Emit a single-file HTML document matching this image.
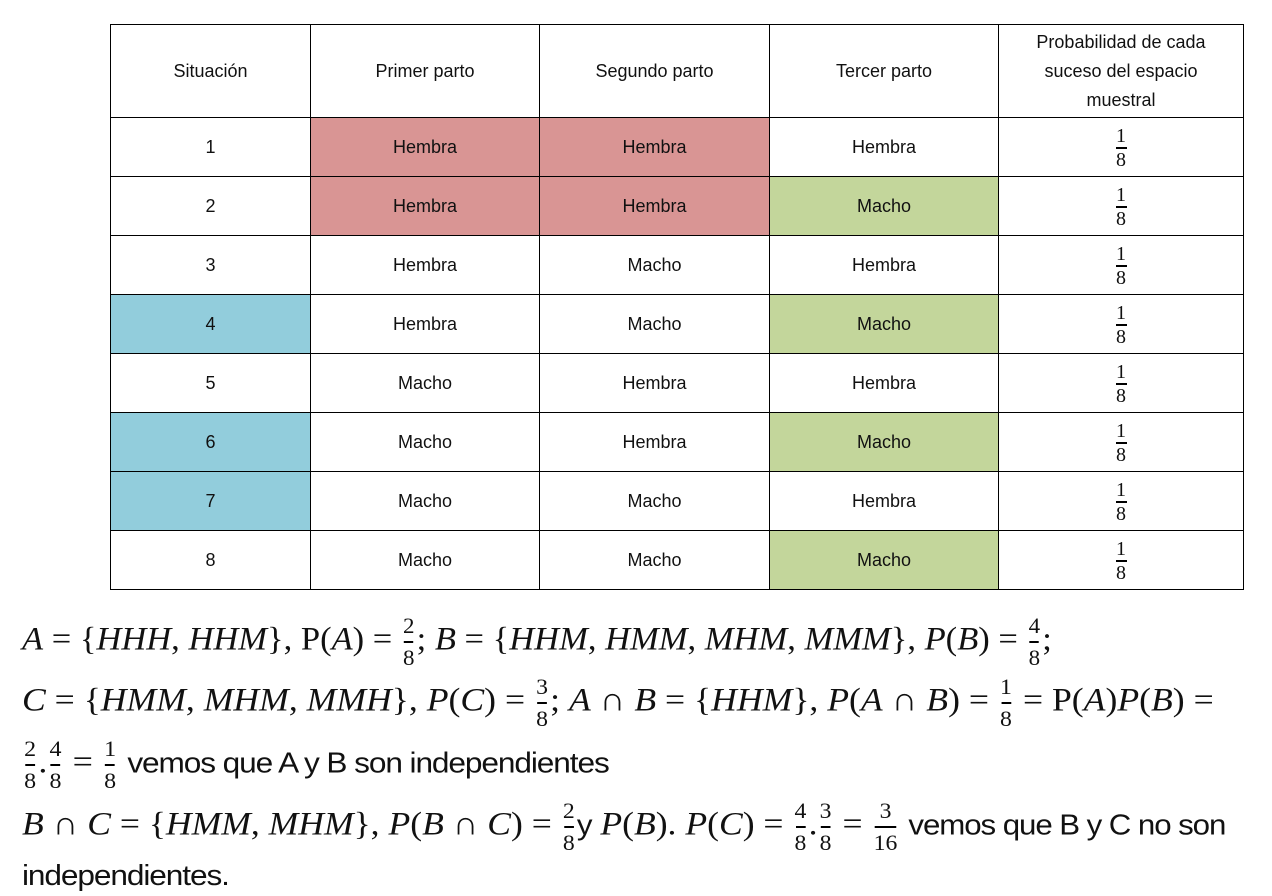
<!DOCTYPE html>
<html><head><meta charset="utf-8">
<style>
body{margin:0;width:1272px;height:896px;background:#fff;position:relative;overflow:hidden;font-family:"Liberation Sans",sans-serif}
table{position:absolute;left:110px;top:24px;border-collapse:collapse;table-layout:fixed}
td{border:1.5px solid #000;text-align:center;font-size:18px;color:#111;padding:0;overflow:hidden;position:relative}
tr.h td{height:92px;line-height:29px}
tr.r td{height:58px}
.R{background:#d99594}.G{background:#c3d69b}.B{background:#92cddc}
.pf{position:absolute;left:0;right:0;top:0;bottom:0;overflow:hidden}
.pf div{position:absolute;left:0;right:0;top:8px;font-family:"Liberation Serif",serif;font-size:20px;line-height:20px}
.pf i{display:block;width:11px;height:1.5px;background:#000;margin:1px auto 1px}
.ln{position:absolute;left:22px;white-space:nowrap;font-family:"Liberation Serif",serif;font-size:33px;color:#111;transform-origin:0 50%}
.m{font-style:italic}
.f{display:inline-block;vertical-align:middle;text-align:center;font-style:normal;font-size:22px;line-height:24px;margin:0 2px}
.f b{display:block;font-weight:normal}
.f i{display:block;height:1.5px;background:#000;margin:3px 1px}
.t{font-family:"Liberation Sans Narrow","Liberation Sans",sans-serif;font-size:29px;letter-spacing:-1px;font-style:normal}
</style></head><body>
<table>
<colgroup><col style="width:200px"><col style="width:229px"><col style="width:230px"><col style="width:229px"><col style="width:245px"></colgroup>
<tr class="h"><td>Situación</td><td>Primer parto</td><td>Segundo parto</td><td>Tercer parto</td><td>Probabilidad de cada<br>suceso del espacio<br>muestral</td></tr>
<tr class="r"><td>1</td><td class="R">Hembra</td><td class="R">Hembra</td><td>Hembra</td><td><div class="pf"><div>1<i></i>8</div></div></td></tr>
<tr class="r"><td>2</td><td class="R">Hembra</td><td class="R">Hembra</td><td class="G">Macho</td><td><div class="pf"><div>1<i></i>8</div></div></td></tr>
<tr class="r"><td>3</td><td>Hembra</td><td>Macho</td><td>Hembra</td><td><div class="pf"><div>1<i></i>8</div></div></td></tr>
<tr class="r"><td class="B">4</td><td>Hembra</td><td>Macho</td><td class="G">Macho</td><td><div class="pf"><div>1<i></i>8</div></div></td></tr>
<tr class="r"><td>5</td><td>Macho</td><td>Hembra</td><td>Hembra</td><td><div class="pf"><div>1<i></i>8</div></div></td></tr>
<tr class="r"><td class="B">6</td><td>Macho</td><td>Hembra</td><td class="G">Macho</td><td><div class="pf"><div>1<i></i>8</div></div></td></tr>
<tr class="r"><td class="B">7</td><td>Macho</td><td>Macho</td><td>Hembra</td><td><div class="pf"><div>1<i></i>8</div></div></td></tr>
<tr class="r"><td>8</td><td>Macho</td><td>Macho</td><td class="G">Macho</td><td><div class="pf"><div>1<i></i>8</div></div></td></tr>
</table>

<div class="ln" style="top:614px;transform:scaleX(1.046)"><span class="m">A</span> = {<span class="m">HHH</span>, <span class="m">HHM</span>}, P(<span class="m">A</span>) = <span class="f"><b>2</b><i></i><b>8</b></span>; <span class="m">B</span> = {<span class="m">HHM</span>, <span class="m">HMM</span>, <span class="m">MHM</span>, <span class="m">MMM</span>}, <span class="m">P</span>(<span class="m">B</span>) = <span class="f"><b>4</b><i></i><b>8</b></span>;</div>
<div class="ln" style="top:675px;transform:scaleX(1.08)"><span class="m">C</span> = {<span class="m">HMM</span>, <span class="m">MHM</span>, <span class="m">MMH</span>}, <span class="m">P</span>(<span class="m">C</span>) = <span class="f"><b>3</b><i></i><b>8</b></span>; <span class="m">A</span> ∩ <span class="m">B</span> = {<span class="m">HHM</span>}, <span class="m">P</span>(<span class="m">A</span> ∩ <span class="m">B</span>) = <span class="f"><b>1</b><i></i><b>8</b></span> = P(<span class="m">A</span>)<span class="m">P</span>(<span class="m">B</span>) =</div>
<div class="ln" style="top:737px;transform:scaleX(1.09)"><span class="f"><b>2</b><i></i><b>8</b></span>.<span class="f"><b>4</b><i></i><b>8</b></span> = <span class="f"><b>1</b><i></i><b>8</b></span> <span class="t">vemos que A y B son independientes</span></div>
<div class="ln" style="top:799px;transform:scaleX(1.078)"><span class="m">B</span> ∩ <span class="m">C</span> = {<span class="m">HMM</span>, <span class="m">MHM</span>}, <span class="m">P</span>(<span class="m">B</span> ∩ <span class="m">C</span>) = <span class="f"><b>2</b><i></i><b>8</b></span><span class="t">y</span> <span class="m">P</span>(<span class="m">B</span>). <span class="m">P</span>(<span class="m">C</span>) = <span class="f"><b>4</b><i></i><b>8</b></span>.<span class="f"><b>3</b><i></i><b>8</b></span> = <span class="f"><b>3</b><i></i><b>16</b></span> <span class="t">vemos que B y C no son</span></div>
<div class="ln" style="top:857px;transform:scaleX(1.09)"><span class="t">independientes.</span></div>
</body></html>
